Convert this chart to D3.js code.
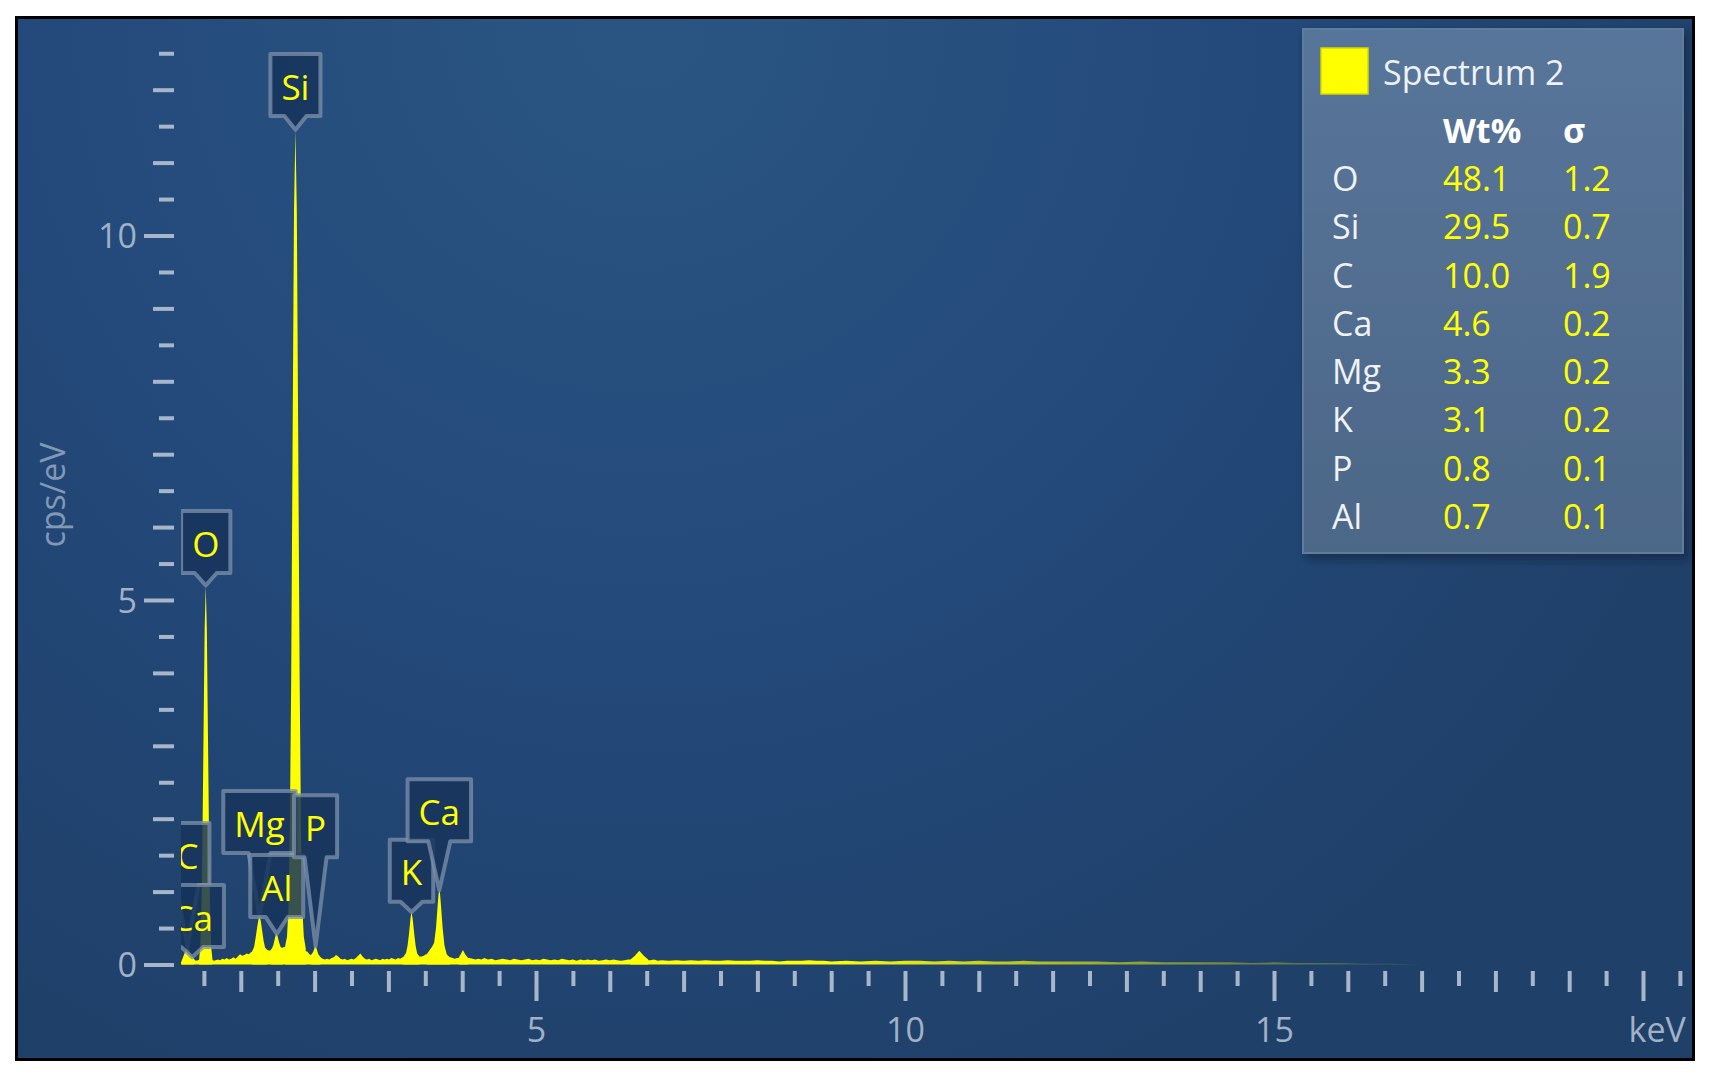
<!DOCTYPE html>
<meta charset="utf-8">
<head>
<style>
body { margin: 0; background: #fff; }
text { font-family: "Open Sans", "Noto Sans", sans-serif; }
.axis .domain { display: none; }
.axis line { stroke: #a8b6c9; stroke-width: 4; }
.axis text { fill: #a1b1c6; font-size: 34px; }
</style>
</head>
<body>
<svg id="chart" width="1709" height="1080"></svg>
<script src="https://cdn.jsdelivr.net/npm/d3@7"></script>
<script>
// background / continuum of the spectrum, [keV, cps/eV]
var continuum = [
  [0.19,0.03],[0.21,0.07],[0.23,0.10],[0.26,0.09],[0.30,0.10],[0.33,0.12],[0.36,0.08],[0.39,0.05],
  [0.42,0.06],[0.45,0.07],[0.60,0.08],[0.63,0.05],[0.66,0.06],[0.69,0.07],[0.72,0.06],[0.75,0.08],
  [0.78,0.07],[0.81,0.09],[0.84,0.07],[0.87,0.08],[0.90,0.10],[0.93,0.08],[0.96,0.11],[0.99,0.14],
  [1.02,0.12],[1.05,0.13],[1.08,0.15],[1.11,0.14],[1.14,0.17],[1.17,0.18],[1.36,0.20],[1.39,0.19],
  [1.42,0.21],[1.55,0.22],[1.58,0.24],[1.90,0.18],[1.93,0.14],[1.96,0.12],[2.08,0.10],[2.11,0.08],
  [2.14,0.07],[2.17,0.08],[2.20,0.07],[2.23,0.09],[2.26,0.10],[2.29,0.13],[2.32,0.11],[2.35,0.08],
  [2.38,0.07],[2.41,0.08],[2.44,0.06],[2.47,0.07],[2.50,0.08],[2.53,0.07],[2.56,0.09],[2.59,0.12],
  [2.62,0.15],[2.65,0.11],[2.68,0.08],[2.71,0.07],[2.74,0.08],[2.77,0.06],[2.80,0.07],[2.83,0.08],
  [2.86,0.07],[2.89,0.06],[2.92,0.08],[2.95,0.07],[2.98,0.08],[3.01,0.07],[3.04,0.09],[3.07,0.08],
  [3.10,0.07],[3.13,0.09],[3.16,0.08],[3.19,0.10],[3.45,0.11],[3.48,0.12],[3.51,0.14],[3.84,0.10],
  [3.87,0.09],[3.90,0.08],[3.93,0.09],[4.10,0.09],[4.14,0.08],[4.18,0.07],[4.22,0.08],[4.26,0.07],
  [4.30,0.09],[4.35,0.07],[4.40,0.08],[4.45,0.06],[4.50,0.07],[4.55,0.08],[4.60,0.07],[4.65,0.06],
  [4.70,0.08],[4.75,0.07],[4.80,0.06],[4.85,0.07],[4.90,0.08],[4.95,0.06],[5.00,0.07],[5.05,0.06],
  [5.10,0.08],[5.15,0.07],[5.20,0.06],[5.25,0.07],[5.30,0.06],[5.35,0.08],[5.40,0.07],[5.45,0.06],
  [5.50,0.07],[5.55,0.05],[5.60,0.07],[5.65,0.06],[5.70,0.07],[5.75,0.06],[5.80,0.07],[5.85,0.05],
  [5.90,0.06],[5.95,0.07],[6.00,0.06],[6.05,0.07],[6.10,0.06],[6.15,0.05],[6.20,0.06],[6.25,0.07],
  [6.55,0.06],[6.60,0.07],[6.65,0.05],[6.70,0.06],[6.80,0.05],[6.90,0.06],[7.00,0.05],[7.10,0.06],
  [7.20,0.05],[7.30,0.06],[7.40,0.05],[7.50,0.05],[7.60,0.06],[7.70,0.05],[7.80,0.05],[7.90,0.05],
  [8.00,0.06],[8.10,0.05],[8.20,0.05],[8.30,0.04],[8.40,0.05],[8.50,0.05],[8.60,0.05],[8.70,0.06],
  [8.80,0.05],[8.90,0.05],[9.00,0.04],[9.20,0.05],[9.40,0.04],[9.60,0.05],[9.80,0.04],[10.0,0.05],
  [10.2,0.05],[10.4,0.04],[10.6,0.05],[10.8,0.04],[11.0,0.05],[11.2,0.04],[11.4,0.04],[11.6,0.05],
  [11.8,0.04],[12.0,0.04],[12.3,0.04],[12.6,0.04],[12.9,0.03],[13.2,0.04],[13.5,0.03],[13.8,0.03],
  [14.1,0.03],[14.4,0.03],[14.7,0.02],[15.0,0.03],[15.3,0.02],[15.6,0.02],[15.9,0.02],[16.2,0.01],
  [16.6,0.01],[17.0,0]
];

// characteristic peaks, [keV, cps/eV]
var peakC  = [[0.20,0.05],[0.24,0.16],[0.27,0.24],[0.30,0.20],[0.34,0.12],[0.37,0.06]];
var peakO  = [[0.435,0.07],[0.45,0.23],[0.465,0.70],[0.48,1.70],[0.495,3.15],[0.51,4.60],[0.525,5.20],
              [0.54,4.60],[0.555,3.15],[0.57,1.70],[0.585,0.70],[0.60,0.23],[0.615,0.08]];
var peakMg = [[1.15,0.17],[1.18,0.24],[1.20,0.36],[1.22,0.50],[1.24,0.62],[1.254,0.66],[1.27,0.60],
              [1.29,0.46],[1.31,0.32],[1.33,0.23],[1.36,0.20]];
var peakAl = [[1.41,0.20],[1.44,0.26],[1.46,0.35],[1.475,0.41],[1.487,0.42],[1.50,0.38],[1.52,0.30],
              [1.54,0.24],[1.57,0.22]];
var peakSi = [[1.60,0.25],[1.626,0.38],[1.645,0.75],[1.664,1.80],[1.683,3.95],[1.702,7.20],[1.721,10.35],
              [1.74,11.45],[1.759,10.35],[1.778,7.20],[1.797,3.95],[1.816,1.80],[1.835,0.75],[1.854,0.38],[1.88,0.22]];
var peakP  = [[1.95,0.13],[1.98,0.17],[2.00,0.23],[2.013,0.25],[2.03,0.21],[2.05,0.14],[2.08,0.10]];
var peakK  = [[3.20,0.10],[3.24,0.16],[3.26,0.26],[3.28,0.43],[3.30,0.64],[3.313,0.72],[3.33,0.62],
              [3.35,0.42],[3.37,0.25],[3.39,0.15],[3.42,0.11]];
var peakCa = [[3.52,0.14],[3.56,0.20],[3.59,0.24],[3.62,0.30],[3.645,0.50],[3.665,0.78],[3.68,0.97],
              [3.69,1.02],[3.70,0.97],[3.715,0.78],[3.735,0.50],[3.76,0.26],[3.79,0.14],[3.83,0.10]];
var peakCaKb = [[3.95,0.09],[3.98,0.14],[4.01,0.20],[4.04,0.14],[4.08,0.09]];
var peakFe = [[6.28,0.07],[6.34,0.12],[6.40,0.19],[6.46,0.12],[6.52,0.07]];

// peak labels: text, line energy, tip level and box-bottom level (cps/eV)
var labelEl   = ["C", "Ca", "O", "Mg", "Al", "P", "Si", "K", "Ca"];
var labelKeV  = [0.277, 0.341, 0.525, 1.254, 1.487, 2.013, 1.740, 3.313, 3.690];
var labelTip  = [0.24, 0.10, 5.20, 0.66, 0.42, 0.25, 11.45, 0.72, 1.02];
var labelBase = [1.09, 0.24, 5.37, 1.53, 0.65, 1.47, 11.64, 0.86, 1.69];

// quantification table
var legendName  = "Spectrum 2";
var tableEl     = ["O", "Si", "C", "Ca", "Mg", "K", "P", "Al"];
var tableWt     = ["48.1", "29.5", "10.0", "4.6", "3.3", "3.1", "0.8", "0.7"];
var tableSigma  = ["1.2", "0.7", "1.9", "0.2", "0.2", "0.2", "0.1", "0.1"];

var xTickValues = d3.range(1, 42).map(function (i) { return i * 0.5; });
var yTickValues = d3.range(0, 26).map(function (i) { return i * 0.5; });

var svg = d3.select("#chart");

var x = d3.scaleLinear().domain([0, 20]).range([167, 1643]);
var y = d3.scaleLinear().domain([0, 10]).range([964.5, 235.5]);

var defs = svg.append("defs");

var bg = defs.append("radialGradient").attr("id", "bg")
    .attr("gradientUnits", "userSpaceOnUse")
    .attr("cx", 640).attr("cy", 20).attr("r", 1150);
bg.append("stop").attr("offset", 0).attr("stop-color", "#2a5582");
bg.append("stop").attr("offset", 0.55).attr("stop-color", "#23497a");
bg.append("stop").attr("offset", 1).attr("stop-color", "#1f4069");

var specFill = defs.append("linearGradient").attr("id", "specFill")
    .attr("gradientUnits", "userSpaceOnUse")
    .attr("x1", x(9)).attr("x2", x(16.5)).attr("y1", 0).attr("y2", 0);
specFill.append("stop").attr("offset", 0).attr("stop-color", "#ffff00").attr("stop-opacity", 1);
specFill.append("stop").attr("offset", 0.5).attr("stop-color", "#ffff00").attr("stop-opacity", 0.55);
specFill.append("stop").attr("offset", 1).attr("stop-color", "#ffff00").attr("stop-opacity", 0.15);

var legFill = defs.append("linearGradient").attr("id", "legFill")
    .attr("x1", 0).attr("x2", 0).attr("y1", 0).attr("y2", 1);
legFill.append("stop").attr("offset", 0).attr("stop-color", "#57759a");
legFill.append("stop").attr("offset", 1).attr("stop-color", "#4c6787");

var shadow = defs.append("filter").attr("id", "shadow")
    .attr("x", "-10%").attr("y", "-10%").attr("width", "130%").attr("height", "130%");
shadow.append("feDropShadow").attr("dx", 4).attr("dy", 5).attr("stdDeviation", 4)
    .attr("flood-color", "#0c1e36").attr("flood-opacity", 0.6);

defs.append("clipPath").attr("id", "plotClip")
    .append("rect")
    .attr("x", x(0.19)).attr("y", 19)
    .attr("width", x(20.62) - x(0.19)).attr("height", y(0) - 19 + 1);

// frame + background
svg.append("rect")
    .attr("x", 16.5).attr("y", 17.5)
    .attr("width", 1677).attr("height", 1042)
    .attr("fill", "url(#bg)")
    .attr("stroke", "#000").attr("stroke-width", 3);

// axes
var xAxis = d3.axisBottom(x)
    .tickValues(xTickValues)
    .tickFormat(function (d) { return (d % 5 === 0 && d < 20) ? d : ""; });

var gx = svg.append("g").attr("class", "axis")
    .attr("transform", "translate(0,971)")
    .call(xAxis);
gx.selectAll(".tick line")
    .attr("y2", function (d) { return d % 5 === 0 ? 30 : (d % 1 === 0 ? 21 : 15); });
gx.selectAll(".tick text").attr("y", 59).attr("dy", "0.36em");
gx.append("text")
    .attr("x", x(20.62) - 3).attr("y", 59).attr("dy", "0.36em")
    .attr("text-anchor", "end")
    .text("keV");

var yAxis = d3.axisLeft(y)
    .tickValues(yTickValues)
    .tickFormat(function (d) { return d % 5 === 0 ? d : ""; });

var gy = svg.append("g").attr("class", "axis")
    .attr("transform", "translate(174,0)")
    .call(yAxis);
gy.selectAll(".tick line")
    .attr("x2", function (d) { return d % 5 === 0 ? -30 : (d % 1 === 0 ? -21 : -15); });
gy.selectAll(".tick text").attr("x", -37).attr("dy", "0.36em");

svg.append("text")
    .attr("transform", "translate(53,495) rotate(-90)")
    .attr("text-anchor", "middle")
    .attr("dy", "0.36em")
    .attr("fill", "#8298b4")
    .style("font-size", "34px")
    .text("cps/eV");

// spectrum
var plot = svg.append("g").attr("clip-path", "url(#plotClip)");

var area = d3.area()
    .x(function (d) { return x(d[0]); })
    .y0(y(0))
    .y1(function (d) { return y(d[1]); });

var series = [continuum, peakC, peakO, peakMg, peakAl, peakSi, peakP, peakK, peakCa, peakCaKb, peakFe];
plot.selectAll(".spec")
    .data(series)
    .enter().append("path")
    .attr("class", "spec")
    .attr("d", area)
    .attr("fill", "url(#specFill)");

// peak labels
labelEl.forEach(function (el, i) {
    var cx = x(labelKeV[i]);
    var bottom = y(labelBase[i]);
    var top = bottom - 62;
    var tip = y(labelTip[i]);
    var g = plot.append("g");
    var t = g.append("text")
        .attr("x", cx).attr("y", (top + bottom) / 2 + 2)
        .attr("dy", "0.36em")
        .attr("text-anchor", "middle")
        .attr("fill", "#ffff00")
        .style("font-size", "35px")
        .text(el);
    var w = t.node().getComputedTextLength() + 22;
    var l = cx - w / 2, r = cx + w / 2, hw = 11;
    g.insert("path", "text")
        .attr("d", "M" + l + "," + top + "H" + r + "V" + bottom + "H" + (cx + hw) +
            "L" + cx + "," + tip + "L" + (cx - hw) + "," + bottom + "H" + l + "Z")
        .attr("fill", "#16345a").attr("fill-opacity", 0.85)
        .attr("stroke", "#7d91ab").attr("stroke-opacity", 0.75)
        .attr("stroke-width", 4).attr("stroke-linejoin", "round");
});

// legend / quantification table
var leg = svg.append("g");
leg.append("rect")
    .attr("x", 1303).attr("y", 29).attr("width", 380).attr("height", 524)
    .attr("fill", "url(#legFill)")
    .attr("stroke", "#5f7b9c").attr("stroke-width", 2)
    .attr("filter", "url(#shadow)");
leg.append("rect")
    .attr("x", 1321).attr("y", 48).attr("width", 47).attr("height", 46)
    .attr("fill", "#ffff00").attr("stroke", "#d6d600").attr("stroke-width", 1.5);
leg.append("text")
    .attr("x", 1383).attr("y", 85)
    .attr("fill", "#eef2f7").style("font-size", "34px")
    .text(legendName);
leg.append("text")
    .attr("x", 1443).attr("y", 143)
    .attr("fill", "#ffffff").style("font-size", "34px").style("font-weight", "bold")
    .text("Wt%");
leg.append("text")
    .attr("x", 1563).attr("y", 143)
    .attr("fill", "#ffffff").style("font-size", "34px").style("font-weight", "bold")
    .text("σ");

var rowY = d3.scaleLinear().domain([0, tableEl.length - 1]).range([191, 529]);

var rows = leg.selectAll(".row")
    .data(tableEl)
    .enter().append("g")
    .attr("class", "row")
    .attr("transform", function (d, i) { return "translate(0," + rowY(i) + ")"; });
rows.append("text")
    .attr("x", 1332).attr("fill", "#f0f2f5").style("font-size", "34px")
    .text(function (d) { return d; });
rows.append("text")
    .attr("x", 1443).attr("fill", "#ffff00").style("font-size", "34px")
    .text(function (d, i) { return tableWt[i]; });
rows.append("text")
    .attr("x", 1563).attr("fill", "#ffff00").style("font-size", "34px")
    .text(function (d, i) { return tableSigma[i]; });
</script>
</body>
